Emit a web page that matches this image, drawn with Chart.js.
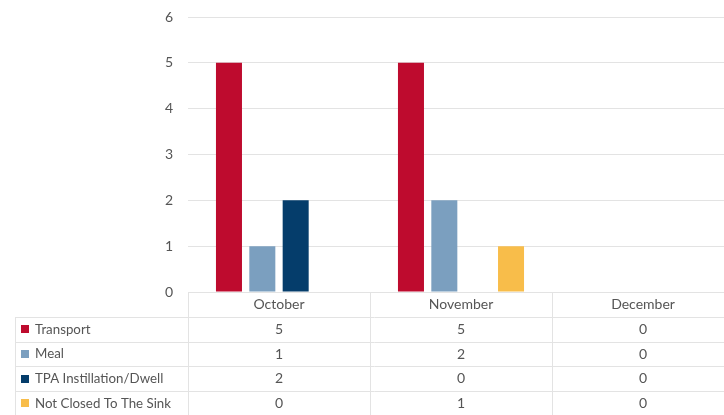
<!DOCTYPE html>
<html>
<head>
<meta charset="utf-8">
<script src="https://cdn.jsdelivr.net/npm/chart.js@4/dist/chart.umd.min.js"></script>
<style>
  html, body { margin: 0; padding: 0; background: #fff; overflow: hidden; }
  #wrap { position: relative; width: 734px; height: 415px; }
</style>
</head>
<body>
<div id="wrap"><canvas id="chart"></canvas></div>
<script>
const months = ["October", "November", "December"];
const seriesNames = ["Transport", "Meal", "TPA Instillation/Dwell", "Not Closed To The Sink"];
const transport = [5, 5, 0];
const meal = [1, 2, 0];
const tpaInstillation = [2, 0, 0];
const notClosedToSink = [0, 1, 0];
const seriesColors = ["#BE0B2E", "#7B9FBF", "#053D6B", "#F8BD4A"];
const yMax = 6;

const textColor = "#555555";
const lineColor = "#E3E3E3";
const fontFamily = "Lato, 'Open Sans', 'Liberation Sans', sans-serif";
const font = "14px " + fontFamily;
const labelFont = "13.3px " + fontFamily;

// data table under the plot, columns follow the x scale
const dataTable = {
  id: "dataTable",
  afterDraw(chart) {
    const ctx = chart.ctx;
    const x = chart.scales.x;
    const area = chart.chartArea;
    const colW = (area.right - area.left) / months.length;
    const headerBottom = area.bottom + 25;
    const rowH = 24.7;
    const tableLeft = 15;
    const bottom = chart.height;

    ctx.save();
    ctx.strokeStyle = lineColor;
    ctx.lineWidth = 1;

    // vertical column borders
    for (let i = 0; i <= months.length; i++) {
      const cx = Math.round(area.left + i * colW) + 0.5;
      ctx.beginPath();
      ctx.moveTo(cx, area.bottom);
      ctx.lineTo(cx, bottom);
      ctx.stroke();
    }
    ctx.beginPath();
    ctx.moveTo(tableLeft + 0.5, headerBottom);
    ctx.lineTo(tableLeft + 0.5, bottom);
    ctx.stroke();

    // horizontal row borders
    for (let r = 0; r <= seriesNames.length; r++) {
      const y = Math.round(headerBottom + r * rowH) + 0.5;
      ctx.beginPath();
      ctx.moveTo(tableLeft, y);
      ctx.lineTo(area.right, y);
      ctx.stroke();
    }

    ctx.font = font;
    ctx.fillStyle = textColor;
    ctx.textBaseline = "middle";
    ctx.textAlign = "center";
    months.forEach((m, i) => {
      ctx.fillText(m, x.getPixelForValue(i), area.bottom + 12.5);
    });

    chart.data.datasets.forEach((ds, r) => {
      const cy = headerBottom + r * rowH + rowH / 2;
      ctx.fillStyle = ds.backgroundColor;
      ctx.fillRect(21, Math.round(cy - 4), 8, 8);
      ctx.fillStyle = textColor;
      ctx.textAlign = "left";
      ctx.font = labelFont;
      ctx.fillText(ds.label, 35, cy);
      ctx.textAlign = "center";
      ctx.font = font;
      ds.data.forEach((v, i) => {
        ctx.fillText(String(v), x.getPixelForValue(i), cy);
      });
    });
    ctx.restore();
  }
};

const seriesData = [transport, meal, tpaInstillation, notClosedToSink];

new Chart(document.getElementById("chart"), {
  type: "bar",
  data: {
    labels: months,
    datasets: seriesNames.map((name, i) => ({
      label: name,
      data: seriesData[i],
      backgroundColor: seriesColors[i],
      categoryPercentage: 0.733,
      barPercentage: 0.78
    }))
  },
  options: {
    responsive: true,
    maintainAspectRatio: false,
    animation: false,
    layout: { padding: { top: 17, bottom: 123, left: 0, right: 0 } },
    plugins: {
      legend: { display: false },
      tooltip: { enabled: false }
    },
    scales: {
      x: {
        grid: { display: false },
        border: { display: false },
        ticks: { display: false },
        afterFit(scale) { scale.height = 0; }
      },
      y: {
        min: 0,
        max: yMax,
        ticks: {
          stepSize: 1,
          padding: 15,
          color: textColor,
          font: { family: fontFamily, size: 14 }
        },
        grid: { color: lineColor, drawTicks: false },
        border: { display: false },
        afterFit(scale) {
          scale.width = 188;
          scale.paddingTop = 0;
          scale.paddingBottom = 0;
        }
      }
    }
  },
  plugins: [dataTable]
});
</script>
</body>
</html>
